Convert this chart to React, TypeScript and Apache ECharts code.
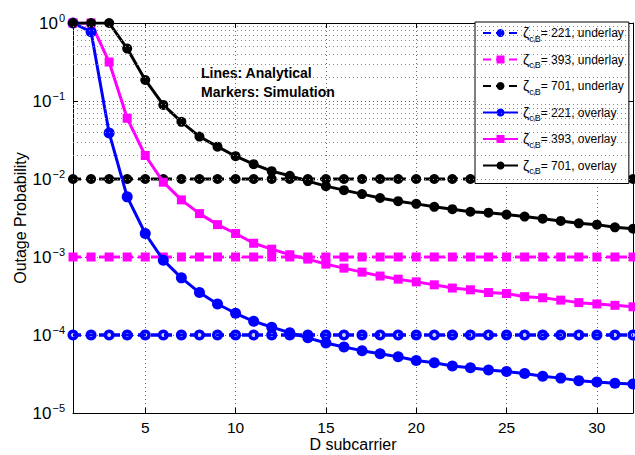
import React, { useEffect, useRef } from 'react';
import * as echarts from 'echarts';

const D = [1, 2, 3, 4, 5, 6, 7, 8, 9, 10, 11, 12, 13, 14, 15, 16, 17, 18, 19, 20, 21, 22, 23, 24, 25, 26, 27, 28, 29, 30, 31, 32];

const underlay221 = [1e-4, 1e-4, 1e-4, 1e-4, 1e-4, 1e-4, 1e-4, 1e-4, 1e-4, 1e-4, 1e-4, 1e-4, 1e-4, 1e-4, 1e-4, 1e-4, 1e-4, 1e-4, 1e-4, 1e-4, 1e-4, 1e-4, 1e-4, 1e-4, 1e-4, 1e-4, 1e-4, 1e-4, 1e-4, 1e-4, 1e-4, 1e-4];
const underlay393 = [1e-3, 1e-3, 1e-3, 1e-3, 1e-3, 1e-3, 1e-3, 1e-3, 1e-3, 1e-3, 1e-3, 1e-3, 1e-3, 1e-3, 1e-3, 1e-3, 1e-3, 1e-3, 1e-3, 1e-3, 1e-3, 1e-3, 1e-3, 1e-3, 1e-3, 1e-3, 1e-3, 1e-3, 1e-3, 1e-3, 1e-3, 1e-3];
const underlay701 = [1e-2, 1e-2, 1e-2, 1e-2, 1e-2, 1e-2, 1e-2, 1e-2, 1e-2, 1e-2, 1e-2, 1e-2, 1e-2, 1e-2, 1e-2, 1e-2, 1e-2, 1e-2, 1e-2, 1e-2, 1e-2, 1e-2, 1e-2, 1e-2, 1e-2, 1e-2, 1e-2, 1e-2, 1e-2, 1e-2, 1e-2, 1e-2];

const overlay221 = [1, 0.77, 0.039, 0.0059, 0.002, 0.00091, 0.00054, 0.00035, 0.00025, 0.00019, 0.00015, 0.000126, 0.000107, 9.2e-5, 7.9e-5, 7.0e-5, 6.3e-5, 5.75e-5, 5.25e-5, 4.7e-5, 4.4e-5, 4.0e-5, 3.8e-5, 3.55e-5, 3.4e-5, 3.2e-5, 2.95e-5, 2.8e-5, 2.6e-5, 2.5e-5, 2.4e-5, 2.35e-5];
const overlay393 = [1, 1, 0.316, 0.06, 0.02, 0.0091, 0.0054, 0.0036, 0.0026, 0.002, 0.0015, 0.00126, 0.00107, 0.00094, 0.00081, 0.00072, 0.00064, 0.00057, 0.00052, 0.00048, 0.00044, 0.0004, 0.00038, 0.00035, 0.00034, 0.00031, 0.0003, 0.00028, 0.00026, 0.00025, 0.00024, 0.00023];
const overlay701 = [1, 1, 1, 0.47, 0.186, 0.089, 0.054, 0.035, 0.026, 0.0196, 0.0155, 0.0126, 0.011, 0.0094, 0.0081, 0.0072, 0.0064, 0.0057, 0.0052, 0.0048, 0.0044, 0.0041, 0.0038, 0.0037, 0.0035, 0.0033, 0.0031, 0.0029, 0.0027, 0.0026, 0.0024, 0.0023];

const minorGridValues = [
  2e-5, 3e-5, 4e-5, 5e-5, 6e-5, 7e-5, 8e-5, 9e-5,
  2e-4, 3e-4, 4e-4, 5e-4, 6e-4, 7e-4, 8e-4, 9e-4,
  2e-3, 3e-3, 4e-3, 5e-3, 6e-3, 7e-3, 8e-3, 9e-3,
  2e-2, 3e-2, 4e-2, 5e-2, 6e-2, 7e-2, 8e-2, 9e-2,
  2e-1, 3e-1, 4e-1, 5e-1, 6e-1, 7e-1, 8e-1, 9e-1,
];

const legendTexts: Record<string, string> = {
  u221: '= 221, underlay',
  u393: '= 393, underlay',
  u701: '= 701, underlay',
  o221: '= 221, overlay',
  o393: '= 393, overlay',
  o701: '= 701, overlay',
};

const BLUE = '#0000ff';
const MAG = '#ff00ff';
const BLK = '#000000';
const FONT = '"Liberation Sans", Arial, Helvetica, sans-serif';

function pairs(vals: number[]) {
  return D.map((d, i) => [d, vals[i]]);
}

export default function App() {
  const ref = useRef<HTMLDivElement>(null);
  useEffect(() => {
    if (!ref.current) return;
    const chart = echarts.init(ref.current, null, { renderer: 'svg' });
    const dash = [8, 5];
    const lw = 3;
    const gridDot = { type: [1, 3], color: '#666', width: 1 };
    const option: any = {
      animation: false,
      backgroundColor: '#fff',
      textStyle: { fontFamily: FONT },
      grid: { left: 73, right: 2, top: 23, bottom: 42, outerBoundsMode: 'none', containLabel: false },
      legend: {
        data: ['u221', 'u393', 'u701', 'o221', 'o393', 'o701'],
        orient: 'vertical',
        left: 475,
        top: 22,
        backgroundColor: '#fff',
        borderColor: '#000',
        borderWidth: 1,
        borderRadius: 0,
        padding: [2, 5, 8, 7],
        itemWidth: 35,
        itemHeight: 10,
        itemGap: 7.5,
        selectedMode: false,
        formatter: (name: string) => `{z|ζ}{s|c}{i|i}{s|B}{t|${legendTexts[name]}}`,
        textStyle: {
          fontFamily: FONT,
          color: '#000',
          rich: {
            z: { fontSize: 14, lineHeight: 20, fontFamily: FONT, color: '#000' },
            s: { fontSize: 9, lineHeight: 20, verticalAlign: 'bottom', fontFamily: FONT, color: '#000', padding: [7, 0, 0, 0] },
            i: { fontSize: 5, lineHeight: 20, verticalAlign: 'bottom', fontFamily: FONT, color: '#000', padding: [14, 0, 0, 0] },
            t: { fontSize: 12, lineHeight: 20, fontFamily: FONT, color: '#000' },
          },
        },
      },
      xAxis: [
        {
          type: 'value',
          min: 1,
          max: 32,
          minInterval: 5,
          maxInterval: 5,
          name: 'D subcarrier',
          nameLocation: 'middle',
          nameGap: 23,
          nameMoveOverlap: false,
          nameTextStyle: { fontSize: 16, color: '#000', fontFamily: FONT },
          axisLine: { show: true, lineStyle: { color: '#000', width: 1 } },
          axisTick: { show: true, inside: true, length: 5, lineStyle: { color: '#000' } },
          axisLabel: { showMinLabel: false, showMaxLabel: false, fontSize: 15.5, color: '#000', margin: 6, fontFamily: FONT },
          splitLine: { show: true, lineStyle: gridDot },
        },
        {
          type: 'value',
          position: 'top',
          min: 1,
          max: 32,
          minInterval: 5,
          maxInterval: 5,
          axisLine: { show: true, lineStyle: { color: '#000', width: 1 } },
          axisTick: { show: true, inside: true, length: 5, lineStyle: { color: '#000' } },
          axisLabel: { show: false },
          splitLine: { show: false },
        },
      ],
      yAxis: [
        {
          type: 'log',
          logBase: 10,
          min: 1e-5,
          max: 1,
          name: 'Outage Probability',
          nameLocation: 'middle',
          nameGap: 45,
          nameMoveOverlap: false,
          nameTextStyle: { fontSize: 16, color: '#000', fontFamily: FONT },
          axisLine: { show: true, lineStyle: { color: '#000', width: 1 } },
          axisTick: { show: true, inside: true, length: 5, lineStyle: { color: '#000' } },
          axisLabel: {
            color: '#000',
            margin: 8,
            formatter: (v: number) => {
              const e = Math.round(Math.log10(v));
              const sup = e === 0 ? '0' : '−' + Math.abs(e);
              return `{b|10}{p|${sup}}`;
            },
            rich: {
              b: { fontSize: 17, lineHeight: 24, verticalAlign: 'middle', color: '#000', fontFamily: FONT },
              p: { fontSize: 11, lineHeight: 24, verticalAlign: 'top', color: '#000', fontFamily: FONT, padding: [1, 0, 0, 1] },
            },
          },
          splitLine: { show: true, lineStyle: gridDot },
        },
        {
          type: 'log',
          logBase: 10,
          min: 1e-5,
          max: 1,
          position: 'right',
          axisLine: { show: true, lineStyle: { color: '#000', width: 1 } },
          axisTick: { show: true, inside: true, length: 5, lineStyle: { color: '#000' } },
          axisLabel: { show: false },
          splitLine: { show: false },
        },
      ],
      graphic: [
        {
          type: 'text',
          left: 201,
          top: 63,
          style: {
            text: 'Lines: Analytical\nMarkers: Simulation',
            fontSize: 14,
            fontWeight: 'bold',
            fontFamily: FONT,
            fill: '#000',
            lineHeight: 19,
          },
        },
      ],
      series: [
        {
          type: 'line',
          name: 'minorgrid',
          data: [],
          silent: true,
          markLine: {
            silent: true,
            symbol: 'none',
            label: { show: false },
            lineStyle: { type: [1, 3], color: '#888', width: 1 },
            data: minorGridValues.map((v) => ({ yAxis: v })),
          },
        },
        {
          type: 'line',
          name: 'u221',
          data: pairs(underlay221),
          symbol: 'circle',
          symbolSize: 11,
          z: 2,
          itemStyle: { color: BLUE },
          lineStyle: { color: BLUE, width: lw, type: dash },
        },
        {
          type: 'scatter',
          name: 'u221holes',
          data: pairs(underlay221),
          symbol: 'circle',
          symbolSize: 4,
          z: 3,
          silent: true,
          itemStyle: { color: '#fff' },
        },
        {
          type: 'line',
          name: 'u221line',
          data: pairs(underlay221),
          showSymbol: false,
          symbol: 'none',
          z: 3.5,
          silent: true,
          lineStyle: { color: BLUE, width: lw, type: dash },
        },
        {
          type: 'line',
          name: 'u393',
          data: pairs(underlay393),
          symbol: 'rect',
          symbolSize: 9,
          z: 2,
          itemStyle: { color: MAG },
          lineStyle: { color: MAG, width: lw, type: dash },
        },
        {
          type: 'line',
          name: 'u701',
          data: pairs(underlay701),
          symbol: 'circle',
          symbolSize: 10,
          z: 2,
          itemStyle: { color: BLK },
          lineStyle: { color: BLK, width: lw, type: dash },
        },
        {
          type: 'line',
          name: 'o221',
          data: pairs(overlay221),
          symbol: 'circle',
          symbolSize: 11,
          z: 4,
          itemStyle: { color: BLUE },
          lineStyle: { color: BLUE, width: lw },
        },
        {
          type: 'line',
          name: 'o393',
          data: pairs(overlay393),
          symbol: 'rect',
          symbolSize: 9,
          z: 4,
          itemStyle: { color: MAG },
          lineStyle: { color: MAG, width: lw },
        },
        {
          type: 'line',
          name: 'o701',
          data: pairs(overlay701),
          symbol: 'circle',
          symbolSize: 10,
          z: 4,
          itemStyle: { color: BLK },
          lineStyle: { color: BLK, width: lw },
        },
      ],
    };
    chart.setOption(option);
    return () => chart.dispose();
  }, []);
  return <div ref={ref} style={{ width: 635, height: 455, position: 'absolute', left: 0, top: 0 }} />;
}
